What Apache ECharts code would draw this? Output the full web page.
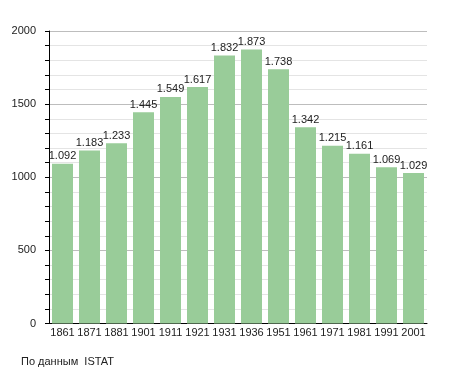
<!DOCTYPE html>
<html><head><meta charset="utf-8">
<script src="https://cdn.jsdelivr.net/npm/echarts@6/dist/echarts.min.js"></script>
<style>html,body{margin:0;padding:0;background:#fff}#c{width:455px;height:373px}</style>
</head><body><div id="c"></div>
<script>
const years = ['1861','1871','1881','1901','1911','1921','1931','1936','1951','1961','1971','1981','1991','2001'];
const population = [1092,1183,1233,1445,1549,1617,1832,1873,1738,1342,1215,1161,1069,1029];
const yTicks = [0,500,1000,1500,2000];
const sourceText = 'По данным  ISTAT';

const chart = echarts.init(document.getElementById('c'), null, {renderer:'canvas'});
const font = 'Liberation Sans, Arial, sans-serif';
chart.setOption({
  animation:false,
  textStyle:{fontFamily:font},
  grid:{left:49,right:28,top:31,bottom:49.5,containLabel:false},
  graphic:[{type:'text',left:21,top:356,style:{text:sourceText,font:'11px '+font,fill:'#222'}}],
  xAxis:{type:'category',data:years,
    axisLine:{lineStyle:{color:'#000',width:1}},
    axisTick:{show:false},
    axisLabel:{color:'#222',fontSize:11,margin:4,fontFamily:font,interval:0}},
  yAxis:{type:'value',min:yTicks[0],max:yTicks[yTicks.length-1],interval:500,
    axisLine:{show:true,lineStyle:{color:'#000'}},
    axisTick:{show:true,length:4,lineStyle:{color:'#000'}},
    minorTick:{show:true,splitNumber:5,length:4,lineStyle:{color:'#000'}},
    splitLine:{lineStyle:{color:'#bdbdbd'}},
    minorSplitLine:{show:true,lineStyle:{color:'#e4e4e4'}},
    axisLabel:{color:'#222',fontSize:11,margin:13,fontFamily:font,formatter:v=>String(v)}},
  series:[{type:'bar',data:population,barWidth:21,
    itemStyle:{color:'#99cc99'},
    label:{show:true,position:'top',distance:2,color:'#222',fontSize:11,fontFamily:font,
      formatter:p=>{const v=p.value;return Math.floor(v/1000)+'.'+String(v%1000).padStart(3,'0');}}}]
});
</script></body></html>
